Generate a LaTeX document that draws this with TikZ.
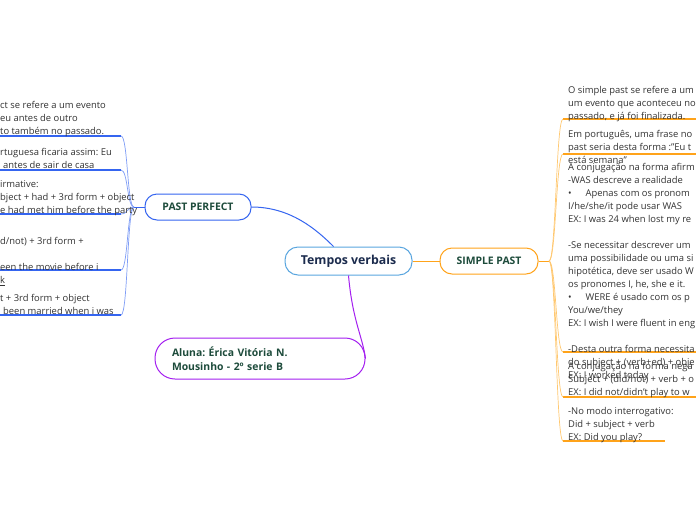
\documentclass[tikz,border=0pt]{standalone}
\usepackage{fontspec}
\setmainfont{Open Sans}
\usepackage{xcolor}
\usetikzlibrary{
    positioning,
    calc
}
\frenchspacing
\definecolor{mapBlue}{HTML}{3565F0}
\definecolor{mapBlueLt}{HTML}{7F9DF6}
\definecolor{mapOrange}{HTML}{FFA31A}
\definecolor{mapOrangeLt}{HTML}{FFC870}
\definecolor{mapPurple}{HTML}{A41FF0}
\definecolor{rootBlue}{HTML}{5AA6DF}
\definecolor{rootText}{HTML}{1B2B4D}
\definecolor{topicText}{HTML}{1D4B3B}
\definecolor{leafText}{HTML}{333333}
\tikzset{
  root/.style  = {draw=rootBlue, line width=1pt, rounded corners=13pt, fill=white,
                  minimum width=127pt, minimum height=28pt, text=rootText,
                  font=\fontsize{12.3}{14}\selectfont\bfseries},
  topic/.style = {draw, line width=1pt, rounded corners=12pt, fill=white,
                  minimum height=26pt, text=topicText,
                  font=\fontsize{10.4}{12}\selectfont\bfseries},
  leaf/.style  = {anchor=north west, inner sep=0pt, align=left, text=leafText,
                  font=\fontsize{9.4}{13}\selectfont},
  uline/.style = {line width=1.2pt},
  twig/.style  = {line width=0.7pt}
}

\begin{document}
\begin{tikzpicture}[x=1pt, y=-1pt]
\useasboundingbox (0,0) rectangle (696,520);
\fill[white] (0,0) rectangle (696,520);

% central topic and branches
\node[root] (tv) at (348.5,261) {Tempos verbais};
\node[topic, draw=mapBlue, minimum width=106pt] (pp) at (198,207) {PAST PERFECT};
\node[topic, draw=mapOrange, minimum width=98pt] (sp) at (489,261) {SIMPLE PAST};
\node[topic, draw=mapPurple, rounded corners=20pt, minimum height=41pt,
      text width=176pt, inner xsep=17pt, align=left,
      font=\fontsize{10.4}{14.5}\selectfont\bfseries] (aluna) at (260,358.5)
      {Aluna: Érica Vitória N.\\Mousinho - 2º serie B};

\draw[mapBlue, line width=1pt] (pp.east) .. controls +(39,0) and +(-17,-17) .. ([xshift=-15pt]tv.north);
\draw[mapOrange, line width=1pt] (tv.east) -- (sp.west);
\draw[mapPurple, line width=1pt] (tv.south) .. controls +(4,45) and +(-3,-22) .. (aluna.east);

% past perfect leaves
\coordinate (jL) at (134,207);
\draw[mapBlue, line width=1pt] (pp.west) -- (jL);
\foreach \y [count=\i] in {136,170,214,270,315} {
  \coordinate (lS\i) at (-2,\y);
  \coordinate (l\i) at (121,\y);
  \draw[mapBlue, uline] (lS\i) -- (l\i);
  \draw[mapBlueLt, twig] (l\i) .. controls +(7,0) and +(-7,0) .. (jL);
}
\node[leaf] (pp1) at (0,99) {\strut ct se refere a um evento\\eu antes de outro\\to também no passado.};
\node[leaf] (pp2) at (0,146) {\strut rtuguesa ficaria assim: Eu\\\hspace*{3pt}antes de sair de casa};
\node[leaf] (pp3) at (0,178) {\strut irmative:\\bject + had + 3rd form + object\\e had met him before the party};
\node[leaf] (pp4) at (0,235) {\strut d/not) + 3rd form +\\[13pt]een the movie before i\\\underline{k}};
\node[leaf] (pp5) at (0,292) {\strut t + 3rd form + object\\\hspace*{3pt}been married when i was};

% simple past leaves
\coordinate (jR) at (549,261);
\draw[mapOrange, line width=1pt] (sp.east) -- (jR);
\foreach \y/\e [count=\i] in {119/698,154/698,352/698,397/698,441/665} {
  \coordinate (r\i) at (563,\y);
  \coordinate (rE\i) at (\e,\y);
  \draw[mapOrange, uline] (r\i) -- (rE\i);
  \draw[mapOrangeLt, twig] (jR) .. controls +(7,0) and +(-7,0) .. (r\i);
}
\node[leaf] (sp1) at (568,84) {\strut O simple past se refere a um\\um evento que aconteceu no\\passado, e já foi finalizada.};
\node[leaf] (sp2) at (568,128) {\strut Em português, uma frase no\\past seria desta forma :"Eu t\\está semana"};
\node[leaf] (sp3) at (568,161) {\strut A conjugação na forma afirm\\-WAS descreve a realidade\\
  •\hspace{14pt}Apenas com os pronom\\I/he/she/it pode usar WAS\\EX: I was 24 when lost my re\\[13pt]
  -Se necessitar descrever um\\uma possibilidade ou uma si\\hipotética, deve ser usado W\\
  os pronomes I, he, she e it.\\•\hspace{14pt}WERE é usado com os p\\You/we/they\\
  EX: I wish I were fluent in eng\\[13pt]-Desta outra forma necessita\\
  do subject + (verb+ed) + obje\\EX: I worked today};
\node[leaf] (sp4) at (568,360) {\strut A conjugação na forma nega\\Subject + (did/not) + verb + o\\EX: I did not/didn't play to w};
\node[leaf] (sp5) at (568,405) {\strut -No modo interrogativo:\\Did + subject + verb\\EX: Did you play?};
\end{tikzpicture}
\end{document}
